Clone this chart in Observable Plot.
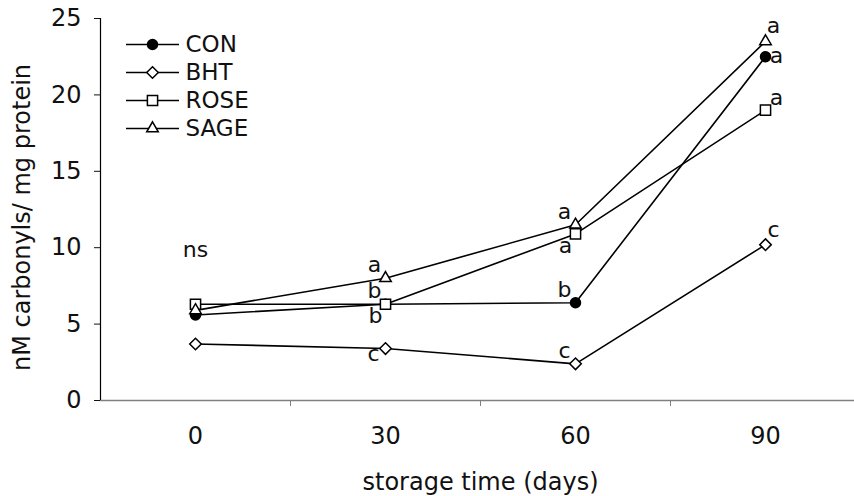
<!DOCTYPE html>
<html>
<head>
<meta charset="utf-8">
<script src="https://cdn.jsdelivr.net/npm/d3@7"></script>
<script src="https://cdn.jsdelivr.net/npm/@observablehq/plot@0.6"></script>
<style>
  html, body { margin: 0; padding: 0; background: #fff; }
  #chart svg { display: block; }
</style>
</head>
<body>
<div id="chart"></div>
<script>
// ---- data ----
const days = [0, 30, 60, 90];
const seriesNames = ["CON", "BHT", "ROSE", "SAGE"];
const CON  = [5.6, 6.3, 6.4, 22.5];
const BHT  = [3.7, 3.4, 2.4, 10.2];
const ROSE = [6.3, 6.3, 10.9, 19.0];
const SAGE = [5.9, 8.0, 11.5, 23.5];
const yTicks = [0, 5, 10, 15, 20, 25];
const xLabel = "storage time (days)";
const yLabel = "nM carbonyls/ mg protein";

// significance letters
const annDay    = [0, 30, 30, 30, 30, 60, 60, 60, 60, 90, 90, 90, 90];
const annSeries = ["ROSE", "SAGE", "ROSE", "CON", "BHT", "SAGE", "ROSE", "CON", "BHT", "SAGE", "CON", "ROSE", "BHT"];
const annText   = ["ns", "a", "b", "b", "c", "a", "a", "b", "c", "a", "a", "a", "c"];
const annPlace  = ["N", "NW", "NW", "SW", "W", "NW", "SW", "NW", "NW", "NE", "E", "ENE", "NE"];

// ---- build tables ----
const valuesBySeries = {CON, BHT, ROSE, SAGE};
const rows = [];
seriesNames.forEach(s => days.forEach((d, i) => rows.push({series: s, day: d, value: valuesBySeries[s][i]})));
const ann = annDay.map((d, i) => ({
  day: d, series: annSeries[i], text: annText[i], place: annPlace[i],
  value: valuesBySeries[annSeries[i]][days.indexOf(d)]
}));

// ---- style ----
const FONT = "DejaVu Sans, Verdana, sans-serif";
const step = days[1] - days[0];
const xDomain = [days[0] - step / 2, days[days.length - 1] + step / 2];
const boundaries = days.slice(1).map((d, i) => (d + days[i]) / 2);
const symStyle = {
  CON:  {symbol: "circle",    fill: "black", r: 5},
  BHT:  {symbol: "diamond2",  fill: "white", r: 5.2},
  ROSE: {symbol: "square2",   fill: "white", r: 6.5},
  SAGE: {symbol: "triangle2", fill: "white", r: 5.5}
};
const placeOffset = {
  N:   {dx: 0,   dy: -54},
  NW:  {dx: -11, dy: -13},
  SW:  {dx: -10, dy: 12},
  W:   {dx: -12, dy: 5},
  NE:  {dx: 8,   dy: -15},
  E:   {dx: 11,  dy: -1},
  ENE: {dx: 11,  dy: -12}
};
const legendLine = {
  draw(ctx) { ctx.moveTo(-26.5, 0); ctx.lineTo(26.5, 0); }
};

const marks = [
  // axes
  Plot.ruleY([0], {stroke: "#808080", strokeWidth: 1.3}),
  Plot.axisX({ticks: boundaries.concat([xDomain[1]]), tickFormat: () => "", tickSize: 6, stroke: "#808080", label: null}),
  Plot.axisX({ticks: days, tickSize: 0, tickPadding: 26, label: null, fontSize: 24, fill: "#111"}),
  Plot.ruleX([xDomain[0]], {stroke: "black", strokeWidth: 1.2}),
  Plot.axisY({ticks: yTicks, tickSize: 6, tickPadding: 13, label: null, fontSize: 24, fill: "#111"}),
  Plot.text([yLabel], {frameAnchor: "left", textAnchor: "middle", lineAnchor: "middle", rotate: -90, dx: -78, dy: 8, fontSize: 24, fill: "#111"}),
  Plot.text([xLabel], {frameAnchor: "bottom", textAnchor: "middle", lineAnchor: "bottom", dy: 89, fontSize: 24, fill: "#111"}),
  // lines
  Plot.line(rows, {x: "day", y: "value", z: "series", stroke: "black", strokeWidth: 1.6})
];
// markers
seriesNames.forEach(s => {
  const st = symStyle[s];
  marks.push(Plot.dot(rows.filter(r => r.series === s), {
    x: "day", y: "value", symbol: st.symbol, r: st.r, fill: st.fill, stroke: "black", strokeWidth: 1.5
  }));
});
// letters
Object.entries(placeOffset).forEach(([p, off]) => {
  marks.push(Plot.text(ann.filter(a => a.place === p), {
    x: "day", y: "value", text: "text", dx: off.dx, dy: off.dy, fontSize: 22, fill: "#111"
  }));
});
// legend
seriesNames.forEach((s, i) => {
  const st = symStyle[s];
  const dy = 26 + i * 28;
  marks.push(Plot.dot([s], {frameAnchor: "top-left", dx: 52, dy, symbol: legendLine, r: 5, fill: "none", stroke: "black", strokeWidth: 1.6}));
  marks.push(Plot.dot([s], {frameAnchor: "top-left", dx: 52, dy, symbol: st.symbol, r: st.r, fill: st.fill, stroke: "black", strokeWidth: 1.5}));
  marks.push(Plot.text([s], {frameAnchor: "top-left", dx: 85, dy, textAnchor: "start", lineAnchor: "middle", fontSize: 23, fill: "#111"}));
});

const chart = Plot.plot({
  width: 854,
  height: 496,
  marginLeft: 100,
  marginRight: -6,
  marginTop: 18,
  marginBottom: 96,
  style: {fontFamily: FONT, fontSize: "24px", background: "white", color: "#111"},
  x: {type: "linear", domain: xDomain},
  y: {domain: [0, 25]},
  marks
});
document.getElementById("chart").appendChild(chart);
</script>
</body>
</html>
